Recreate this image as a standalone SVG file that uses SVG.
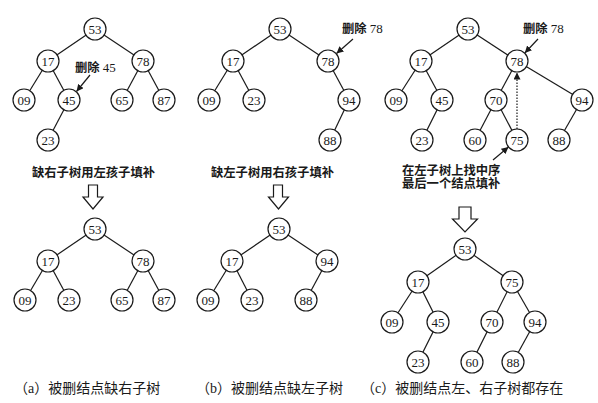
<svg xmlns="http://www.w3.org/2000/svg" width="598" height="403" viewBox="0 0 598 403">
<style>
text{font-family:"Liberation Serif","Noto Sans CJK SC",serif;fill:#1a1a1a}
.n circle{fill:#fff;stroke:#1a1a1a;stroke-width:1.2}
.n text{font-family:"Liberation Serif",serif;font-size:13px;text-anchor:middle}
.e line{stroke:#1a1a1a;stroke-width:1.2}
.dot{stroke:#1a1a1a;stroke-width:1;stroke-dasharray:1.5 1.5}
.ptr{stroke:#1a1a1a;stroke-width:1.2}
.lbl{font-size:12.3px;font-weight:bold}
.num{font-family:"Liberation Serif",serif;font-weight:normal;font-size:13px}
.cap{font-size:14px}
.big{fill:#fff;stroke:#1a1a1a;stroke-width:1.2}
</style>
<defs>
<marker id="ah" viewBox="0 0 10 10" refX="10" refY="5" markerWidth="7" markerHeight="7" markerUnits="userSpaceOnUse" orient="auto"><path d="M0,0 L10,5 L0,10 z" fill="#1a1a1a"/></marker>
</defs>
<rect width="598" height="403" fill="#fff"/>
<g id="connectors" class="e">
<line x1="95" y1="29" x2="48" y2="61"/><line x1="95" y1="29" x2="143" y2="61"/>
<line x1="48" y1="61" x2="24" y2="100"/><line x1="48" y1="61" x2="69" y2="100"/>
<line x1="69" y1="100" x2="48" y2="140"/>
<line x1="143" y1="61" x2="122" y2="100"/><line x1="143" y1="61" x2="164" y2="100"/>
<line x1="95" y1="229" x2="48" y2="261"/><line x1="95" y1="229" x2="143" y2="261"/>
<line x1="48" y1="261" x2="25" y2="300"/><line x1="48" y1="261" x2="69" y2="300"/>
<line x1="143" y1="261" x2="122" y2="300"/><line x1="143" y1="261" x2="164" y2="300"/>
<line x1="280" y1="29" x2="233" y2="61"/><line x1="280" y1="29" x2="328" y2="61"/>
<line x1="233" y1="61" x2="209" y2="100"/><line x1="233" y1="61" x2="254" y2="100"/>
<line x1="328" y1="61" x2="349" y2="100"/><line x1="349" y1="100" x2="330" y2="140"/>
<line x1="279" y1="229" x2="232" y2="261"/><line x1="279" y1="229" x2="327" y2="261"/>
<line x1="232" y1="261" x2="208" y2="300"/><line x1="232" y1="261" x2="252" y2="300"/>
<line x1="327" y1="261" x2="306" y2="300"/>
<line x1="468" y1="29" x2="421" y2="61"/><line x1="468" y1="29" x2="517" y2="61"/>
<line x1="421" y1="61" x2="396" y2="100"/><line x1="421" y1="61" x2="442" y2="100"/>
<line x1="442" y1="100" x2="422" y2="140"/>
<line x1="517" y1="61" x2="496" y2="100"/><line x1="517" y1="61" x2="582" y2="100"/>
<line x1="496" y1="100" x2="475" y2="140"/><line x1="496" y1="100" x2="517" y2="140"/>
<line x1="582" y1="100" x2="559" y2="140"/>
<line x1="465" y1="249" x2="418" y2="282"/><line x1="465" y1="249" x2="512" y2="282"/>
<line x1="418" y1="282" x2="392" y2="322"/><line x1="418" y1="282" x2="438" y2="322"/>
<line x1="438" y1="322" x2="418" y2="362"/>
<line x1="512" y1="282" x2="492" y2="322"/><line x1="512" y1="282" x2="535" y2="322"/>
<line x1="492" y1="322" x2="472" y2="362"/><line x1="535" y1="322" x2="513" y2="362"/>
<line class="ptr" x1="90" y1="75" x2="76.5" y2="91.5" marker-end="url(#ah)"/>
<line class="ptr" x1="353" y1="39" x2="336.5" y2="53.5" marker-end="url(#ah)"/>
<line class="ptr" x1="538" y1="39" x2="524.8" y2="53" marker-end="url(#ah)"/>
<line class="ptr" x1="493" y1="160" x2="508.5" y2="147" marker-end="url(#ah)"/>
<line class="dot" x1="517" y1="129" x2="517" y2="72.5" marker-end="url(#ah)"/>
</g>
<g id="panel-a-top">
<g id="a1-53" class="n"><circle cx="95" cy="29" r="11"/><text x="95" y="33.5">53</text></g>
<g id="a1-17" class="n"><circle cx="48" cy="61" r="11"/><text x="48" y="65.5">17</text></g>
<g id="a1-78" class="n"><circle cx="143" cy="61" r="11"/><text x="143" y="65.5">78</text></g>
<g id="a1-09" class="n"><circle cx="24" cy="100" r="11"/><text x="24" y="104.5">09</text></g>
<g id="a1-45" class="n"><circle cx="69" cy="100" r="11"/><text x="69" y="104.5">45</text></g>
<g id="a1-65" class="n"><circle cx="122" cy="100" r="11"/><text x="122" y="104.5">65</text></g>
<g id="a1-87" class="n"><circle cx="164" cy="100" r="11"/><text x="164" y="104.5">87</text></g>
<g id="a1-23" class="n"><circle cx="48" cy="140" r="11"/><text x="48" y="144.5">23</text></g>
</g>
<g id="panel-a-bottom">
<g id="a2-53" class="n"><circle cx="95" cy="229" r="11"/><text x="95" y="233.5">53</text></g>
<g id="a2-17" class="n"><circle cx="48" cy="261" r="11"/><text x="48" y="265.5">17</text></g>
<g id="a2-78" class="n"><circle cx="143" cy="261" r="11"/><text x="143" y="265.5">78</text></g>
<g id="a2-09" class="n"><circle cx="25" cy="300" r="11"/><text x="25" y="304.5">09</text></g>
<g id="a2-23" class="n"><circle cx="69" cy="300" r="11"/><text x="69" y="304.5">23</text></g>
<g id="a2-65" class="n"><circle cx="122" cy="300" r="11"/><text x="122" y="304.5">65</text></g>
<g id="a2-87" class="n"><circle cx="164" cy="300" r="11"/><text x="164" y="304.5">87</text></g>
</g>
<g id="panel-b-top">
<g id="b1-53" class="n"><circle cx="280" cy="29" r="11"/><text x="280" y="33.5">53</text></g>
<g id="b1-17" class="n"><circle cx="233" cy="61" r="11"/><text x="233" y="65.5">17</text></g>
<g id="b1-78" class="n"><circle cx="328" cy="61" r="11"/><text x="328" y="65.5">78</text></g>
<g id="b1-09" class="n"><circle cx="209" cy="100" r="11"/><text x="209" y="104.5">09</text></g>
<g id="b1-23" class="n"><circle cx="254" cy="100" r="11"/><text x="254" y="104.5">23</text></g>
<g id="b1-94" class="n"><circle cx="349" cy="100" r="11"/><text x="349" y="104.5">94</text></g>
<g id="b1-88" class="n"><circle cx="330" cy="140" r="11"/><text x="330" y="144.5">88</text></g>
</g>
<g id="panel-b-bottom">
<g id="b2-53" class="n"><circle cx="279" cy="229" r="11"/><text x="279" y="233.5">53</text></g>
<g id="b2-17" class="n"><circle cx="232" cy="261" r="11"/><text x="232" y="265.5">17</text></g>
<g id="b2-94" class="n"><circle cx="327" cy="261" r="11"/><text x="327" y="265.5">94</text></g>
<g id="b2-09" class="n"><circle cx="208" cy="300" r="11"/><text x="208" y="304.5">09</text></g>
<g id="b2-23" class="n"><circle cx="252" cy="300" r="11"/><text x="252" y="304.5">23</text></g>
<g id="b2-88" class="n"><circle cx="306" cy="300" r="11"/><text x="306" y="304.5">88</text></g>
</g>
<g id="panel-c-top">
<g id="c1-53" class="n"><circle cx="468" cy="29" r="11"/><text x="468" y="33.5">53</text></g>
<g id="c1-17" class="n"><circle cx="421" cy="61" r="11"/><text x="421" y="65.5">17</text></g>
<g id="c1-78" class="n"><circle cx="517" cy="61" r="11"/><text x="517" y="65.5">78</text></g>
<g id="c1-09" class="n"><circle cx="396" cy="100" r="11"/><text x="396" y="104.5">09</text></g>
<g id="c1-45" class="n"><circle cx="442" cy="100" r="11"/><text x="442" y="104.5">45</text></g>
<g id="c1-70" class="n"><circle cx="496" cy="100" r="11"/><text x="496" y="104.5">70</text></g>
<g id="c1-94" class="n"><circle cx="582" cy="100" r="11"/><text x="582" y="104.5">94</text></g>
<g id="c1-23" class="n"><circle cx="422" cy="140" r="11"/><text x="422" y="144.5">23</text></g>
<g id="c1-60" class="n"><circle cx="475" cy="140" r="11"/><text x="475" y="144.5">60</text></g>
<g id="c1-75" class="n"><circle cx="517" cy="140" r="11"/><text x="517" y="144.5">75</text></g>
<g id="c1-88" class="n"><circle cx="559" cy="140" r="11"/><text x="559" y="144.5">88</text></g>
</g>
<g id="panel-c-bottom">
<g id="c2-53" class="n"><circle cx="465" cy="249" r="11"/><text x="465" y="253.5">53</text></g>
<g id="c2-17" class="n"><circle cx="418" cy="282" r="11"/><text x="418" y="286.5">17</text></g>
<g id="c2-75" class="n"><circle cx="512" cy="282" r="11"/><text x="512" y="286.5">75</text></g>
<g id="c2-09" class="n"><circle cx="392" cy="322" r="11"/><text x="392" y="326.5">09</text></g>
<g id="c2-45" class="n"><circle cx="438" cy="322" r="11"/><text x="438" y="326.5">45</text></g>
<g id="c2-70" class="n"><circle cx="492" cy="322" r="11"/><text x="492" y="326.5">70</text></g>
<g id="c2-94" class="n"><circle cx="535" cy="322" r="11"/><text x="535" y="326.5">94</text></g>
<g id="c2-23" class="n"><circle cx="418" cy="362" r="11"/><text x="418" y="366.5">23</text></g>
<g id="c2-60" class="n"><circle cx="472" cy="362" r="11"/><text x="472" y="366.5">60</text></g>
<g id="c2-88" class="n"><circle cx="513" cy="362" r="11"/><text x="513" y="366.5">88</text></g>
</g>
<g id="big-arrows">
<polygon class="big" points="88.5,185 97.5,185 97.5,197 103,197 93,209 83,197 88.5,197"/>
<polygon class="big" points="273.5,185 282.5,185 282.5,197 288.5,197 278.5,209 268.5,197 273.5,197"/>
<polygon class="big" points="459,207 471,207 471,219 477.5,219 465,232 452.5,219 459,219"/>
</g>
<g id="labels">
<text class="lbl" x="75" y="71.5">删除 <tspan class="num">45</tspan></text>
<text class="lbl" x="342" y="33">删除 <tspan class="num">78</tspan></text>
<text class="lbl" x="523" y="33">删除 <tspan class="num">78</tspan></text>
<text class="lbl" x="32" y="176.5">缺右子树用左孩子填补</text>
<text class="lbl" x="211" y="176.5">缺左子树用右孩子填补</text>
<text class="lbl" x="402" y="174.5">在左子树上找中序</text>
<text class="lbl" x="402" y="187.5">最后一个结点填补</text>
<text class="cap" x="14" y="393">（a）被删结点缺右子树</text>
<text class="cap" x="196" y="393">（b）被删结点缺左子树</text>
<text class="cap" x="361" y="393">（c）被删结点左、右子树都存在</text>
</g>
</svg>
